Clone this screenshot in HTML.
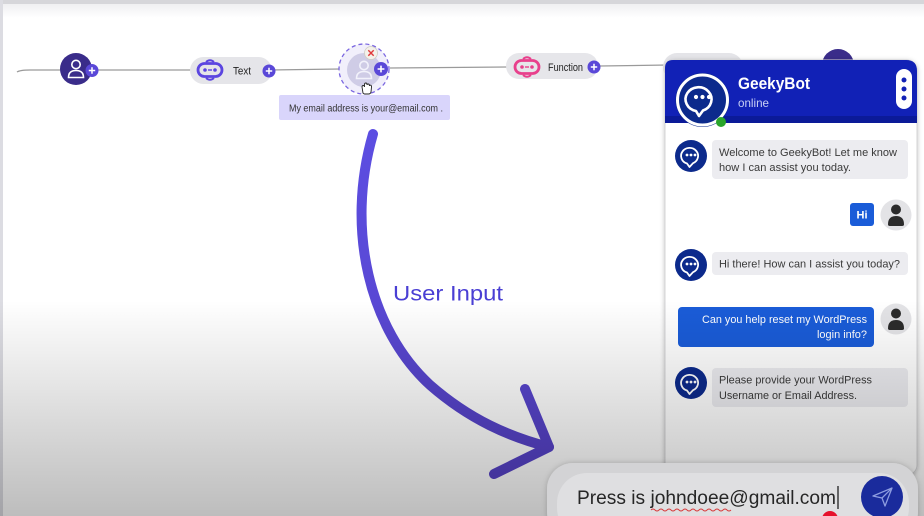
<!DOCTYPE html>
<html><head><meta charset="utf-8">
<style>
html,body{margin:0;padding:0;background:#fff;}
svg{display:block;}
text{font-family:"Liberation Sans",Arial,sans-serif;}
</style></head>
<body>
<svg width="924" height="516" viewBox="0 0 924 516" xmlns="http://www.w3.org/2000/svg">
<defs>
  <linearGradient id="ov" x1="0" y1="0" x2="0" y2="1">
    <stop offset="0" stop-color="#000" stop-opacity="0"/>
    <stop offset="1" stop-color="#000" stop-opacity="0.26"/>
  </linearGradient>
  <linearGradient id="topg" x1="0" y1="0" x2="0" y2="1">
    <stop offset="0" stop-color="#efeff1"/>
    <stop offset="1" stop-color="#ffffff"/>
  </linearGradient>
  <linearGradient id="arr" gradientUnits="userSpaceOnUse" x1="0" y1="130" x2="0" y2="476">
    <stop offset="0" stop-color="#5c4ee2"/>
    <stop offset="1" stop-color="#5642c6"/>
  </linearGradient>
  <filter id="sh" x="-10%" y="-10%" width="120%" height="120%">
    <feDropShadow dx="0" dy="1" stdDeviation="2.5" flood-color="#000" flood-opacity="0.25"/>
  </filter>
  <filter id="sh2" x="-10%" y="-30%" width="120%" height="160%">
    <feDropShadow dx="0" dy="0" stdDeviation="3" flood-color="#000" flood-opacity="0.2"/>
  </filter>
</defs>

<!-- background -->
<rect x="0" y="0" width="924" height="516" fill="#fff"/>
<rect x="0" y="4" width="924" height="14" fill="url(#topg)"/>
<rect x="0" y="0" width="924" height="4" fill="#d6d6da"/>
<rect x="0" y="0" width="3" height="516" fill="#dcdce2"/>

<!-- connector lines -->
<g stroke="#9a9a9a" stroke-width="1.3" fill="none">
  <path d="M17,72 Q20,70 30,70 L62,70"/>
  <path d="M92,70 L191,70"/>
  <path d="M270,70 L340,69"/>
  <path d="M390,68 L507,67"/>
  <path d="M600,66 L668,65"/>
</g>

<!-- node 1 -->
<circle cx="76" cy="69" r="16" fill="#3a2c8a"/>
<g stroke="#fff" stroke-width="1.6" fill="none">
  <circle cx="76" cy="64.5" r="4.2"/>
  <path d="M68.5,77.5 Q68.5,70.5 76,70.5 Q83.5,70.5 83.5,77.5 Z"/>
</g>
<circle cx="92" cy="70.5" r="6.5" fill="#5a48d8"/>
<path d="M88.8,70.5 H95.2 M92,67.3 V73.7" stroke="#fff" stroke-width="1.5"/>

<!-- Text node -->
<rect x="190" y="57" width="82" height="27" rx="13.5" fill="#e5e5e9"/>
<g stroke="#5b45e0" stroke-width="2.8" fill="none">
  <rect x="198" y="63.5" width="24" height="13" rx="6.5"/>
  <path d="M206,62 Q210,58.5 214,62" stroke-width="2"/>
  <path d="M206,78 Q210,81.5 214,78" stroke-width="2"/>
</g>
<circle cx="205" cy="70" r="1.8" fill="#5b45e0"/>
<circle cx="215" cy="70" r="1.8" fill="#5b45e0"/>
<path d="M208,70 H212" stroke="#5b45e0" stroke-width="1.4"/>
<text x="233" y="74.5" font-size="11" fill="#222" textLength="18" lengthAdjust="spacingAndGlyphs">Text</text>
<circle cx="269" cy="71" r="6.5" fill="#5a48d8"/>
<path d="M265.8,71 H272.2 M269,67.8 V74.2" stroke="#fff" stroke-width="1.5"/>

<!-- node 3 (selected) -->
<circle cx="364" cy="69" r="25" fill="#f1effb" stroke="#7a66e0" stroke-width="1.3" stroke-dasharray="4 3"/>
<circle cx="364" cy="70" r="17" fill="#cfcce6"/>
<g stroke="#f2f2fb" stroke-width="1.6" fill="none">
  <circle cx="364" cy="65.5" r="4.2"/>
  <path d="M356.5,78.5 Q356.5,71.5 364,71.5 Q371.5,71.5 371.5,78.5 Z"/>
</g>
<circle cx="371" cy="53" r="6.5" fill="#f4f1ea" stroke="#d0ccc4" stroke-width="0.8"/>
<path d="M368.3,50.3 L373.7,55.7 M373.7,50.3 L368.3,55.7" stroke="#e0383a" stroke-width="1.4"/>
<circle cx="381" cy="69" r="7" fill="#5a48d8"/>
<path d="M377.6,69 H384.4 M381,65.6 V72.4" stroke="#fff" stroke-width="1.6"/>
<!-- hand cursor -->
<path d="M363,93 L362,87 Q362,85.5 363.3,85.5 Q364.5,85.5 364.5,87 L364.5,84.5 Q364.5,83 365.8,83 Q367,83 367,84.5 L367,85 Q367,84 368.2,84 Q369.4,84 369.4,85.5 L369.4,86 Q369.5,85 370.6,85.2 Q371.6,85.5 371.5,87 L371,92 Q370.5,94 368.5,94 L365,94 Q363.5,94 363,93 Z" fill="#fff" stroke="#222" stroke-width="0.9"/>

<!-- tooltip -->
<rect x="279" y="95" width="171" height="25" rx="2" fill="#d9d5fb"/>
<text x="289" y="111.5" font-size="10" fill="#333" textLength="154" lengthAdjust="spacingAndGlyphs">My email address is your@email.com .</text>

<!-- Function node -->
<rect x="506" y="53" width="92" height="26" rx="13" fill="#e6e6ea"/>
<g stroke="#e8408c" stroke-width="2.8" fill="none">
  <rect x="515" y="60.5" width="24" height="13" rx="6.5"/>
  <path d="M523,59 Q527,55.5 531,59" stroke-width="2"/>
  <path d="M523,75 Q527,78.5 531,75" stroke-width="2"/>
</g>
<circle cx="522" cy="67" r="1.8" fill="#e8408c"/>
<circle cx="532" cy="67" r="1.8" fill="#e8408c"/>
<path d="M525,67 H529" stroke="#e8408c" stroke-width="1.4"/>
<text x="548" y="71" font-size="11" fill="#222" textLength="35" lengthAdjust="spacingAndGlyphs">Function</text>
<circle cx="594" cy="67" r="6.5" fill="#5a48d8"/>
<path d="M590.8,67 H597.2 M594,63.8 V70.2" stroke="#fff" stroke-width="1.5"/>

<!-- hidden nodes behind panel -->
<rect x="663" y="53" width="80" height="28" rx="14" fill="#e4e4e8"/>
<circle cx="838" cy="65" r="16" fill="#3a2c8a"/>

<!-- arrow -->
<g stroke="url(#arr)" stroke-width="10" fill="none" stroke-linecap="round" stroke-linejoin="round">
  <path d="M373,134 C345,230 370,330 430,385 C470,420 510,437 549,447"/>
  <path d="M525,389 L549,447 L494,474"/>
</g>
<text x="393" y="300.5" font-size="21" fill="#4a3fd4" textLength="110" lengthAdjust="spacingAndGlyphs">User Input</text>

<!-- chat panel -->
<rect x="665" y="60" width="252" height="415" rx="10" fill="#fff" stroke="#d4d4d6" stroke-width="1" filter="url(#sh)"/>
<path d="M665,123 V68 Q665,60 673,60 H906 Q917,60 917,71 V123 Z" fill="#1121b6"/>
<rect x="665" y="116" width="252" height="7" fill="#0b1a98"/>

<!-- header avatar -->
<circle cx="702.5" cy="100" r="27" fill="#0c2a8c"/>
<circle cx="702.5" cy="100" r="25" fill="none" stroke="#fff" stroke-width="3"/>
<g stroke="#fff" stroke-width="2.6" fill="none" stroke-linejoin="round">
  <path d="M696,111 A13,12 0 1 1 703,110.5 L699,116 Z"/>
</g>
<circle cx="696" cy="97" r="2.1" fill="#fff"/>
<circle cx="702.5" cy="97" r="2.1" fill="#fff"/>
<circle cx="709" cy="97" r="2.1" fill="#fff"/>
<circle cx="721" cy="122" r="5" fill="#2aa52a"/>

<text x="738" y="89" font-size="16.5" font-weight="bold" fill="#fff" textLength="72" lengthAdjust="spacingAndGlyphs">GeekyBot</text>
<text x="738" y="107" font-size="12" fill="#c9d0f5" textLength="31" lengthAdjust="spacingAndGlyphs">online</text>

<rect x="896" y="69" width="16" height="40" rx="8" fill="#fff"/>
<circle cx="904" cy="80" r="2.5" fill="#1121b6"/>
<circle cx="904" cy="89" r="2.5" fill="#1121b6"/>
<circle cx="904" cy="98" r="2.5" fill="#1121b6"/>

<!-- bot avatar symbol -->
<defs>
  <g id="bot">
    <circle cx="0" cy="0" r="16" fill="#0c2a8c"/>
    <path d="M-4,7.5 A8.5,8 0 1 1 2,7.2 L-1.5,11 Z" fill="none" stroke="#fff" stroke-width="1.8" stroke-linejoin="round"/>
    <circle cx="-4" cy="-1" r="1.4" fill="#fff"/>
    <circle cx="0" cy="-1" r="1.4" fill="#fff"/>
    <circle cx="4" cy="-1" r="1.4" fill="#fff"/>
  </g>
  <g id="usr">
    <circle cx="0" cy="0" r="15.5" fill="#e3e3e6"/>
    <circle cx="0" cy="-5.5" r="5" fill="#2b2b2b"/>
    <path d="M-8,9.5 Q-8,1 0,1 Q8,1 8,9.5 Q8,11 6,11 H-6 Q-8,11 -8,9.5 Z" fill="#2b2b2b"/>
  </g>
</defs>

<!-- msg 1 -->
<use href="#bot" x="691" y="156"/>
<rect x="712" y="140" width="196" height="39" rx="4" fill="#ececf0"/>
<text x="719" y="156" font-size="11" fill="#3a3a3a" textLength="178" lengthAdjust="spacingAndGlyphs">Welcome to GeekyBot! Let me know</text>
<text x="719" y="171" font-size="11" fill="#3a3a3a" textLength="132" lengthAdjust="spacingAndGlyphs">how I can assist you today.</text>

<!-- msg 2 -->
<rect x="850" y="203" width="24" height="23" rx="3" fill="#1a5cd8"/>
<text x="862" y="218.5" font-size="11" font-weight="bold" fill="#fff" text-anchor="middle">Hi</text>
<use href="#usr" x="896" y="215"/>

<!-- msg 3 -->
<use href="#bot" x="691" y="265"/>
<rect x="712" y="252" width="196" height="23" rx="4" fill="#ececf0"/>
<text x="719" y="267.5" font-size="11" fill="#3a3a3a" textLength="181" lengthAdjust="spacingAndGlyphs">Hi there! How can I assist you today?</text>

<!-- msg 4 -->
<rect x="678" y="307" width="196" height="40" rx="4" fill="#1a5cd8"/>
<text x="867" y="323" font-size="11" fill="#fff" text-anchor="end" textLength="165" lengthAdjust="spacingAndGlyphs">Can you help reset my WordPress</text>
<text x="867" y="338" font-size="11" fill="#fff" text-anchor="end" textLength="50" lengthAdjust="spacingAndGlyphs">login info?</text>
<use href="#usr" x="896" y="319"/>

<!-- msg 5 -->
<use href="#bot" x="691" y="383"/>
<rect x="712" y="368" width="196" height="39" rx="4" fill="#ececf0"/>
<text x="719" y="383.5" font-size="11" fill="#3a3a3a" textLength="153" lengthAdjust="spacingAndGlyphs">Please provide your WordPress</text>
<text x="719" y="399" font-size="11" fill="#3a3a3a" textLength="138" lengthAdjust="spacingAndGlyphs">Username or Email Address.</text>

<!-- vignette overlay -->
<rect x="0" y="300" width="924" height="216" fill="url(#ov)"/>

<!-- input area -->
<rect x="547" y="463" width="371" height="75" rx="26" fill="#d3d3d5" filter="url(#sh2)"/>
<rect x="557" y="473" width="352" height="65" rx="30" fill="#dfdfe1"/>
<text x="577" y="504" font-size="19" fill="#262626" textLength="259" lengthAdjust="spacingAndGlyphs">Press is johndoee@gmail.com</text>
<path d="M838,486 V509" stroke="#222" stroke-width="1.3"/>
<path d="M651,510 q2,-2 4,0 t4,0 t4,0 t4,0 t4,0 t4,0 t4,0 t4,0 t4,0 t4,0 t4,0 t4,0 t4,0 t4,0 t4,0 t4,0 t4,0 t4,0 t4,0 t4,0" stroke="#d8383a" stroke-width="0.9" fill="none"/>
<circle cx="882" cy="497" r="21" fill="#1a2b9c"/>
<path d="M873,496 L892,488 L885,506 L882,498 Z M882,498 L892,488" fill="none" stroke="#8d9ce0" stroke-width="1.3" stroke-linejoin="round"/>
<circle cx="830" cy="519" r="8" fill="#e6122c"/>
</svg>
</body></html>
